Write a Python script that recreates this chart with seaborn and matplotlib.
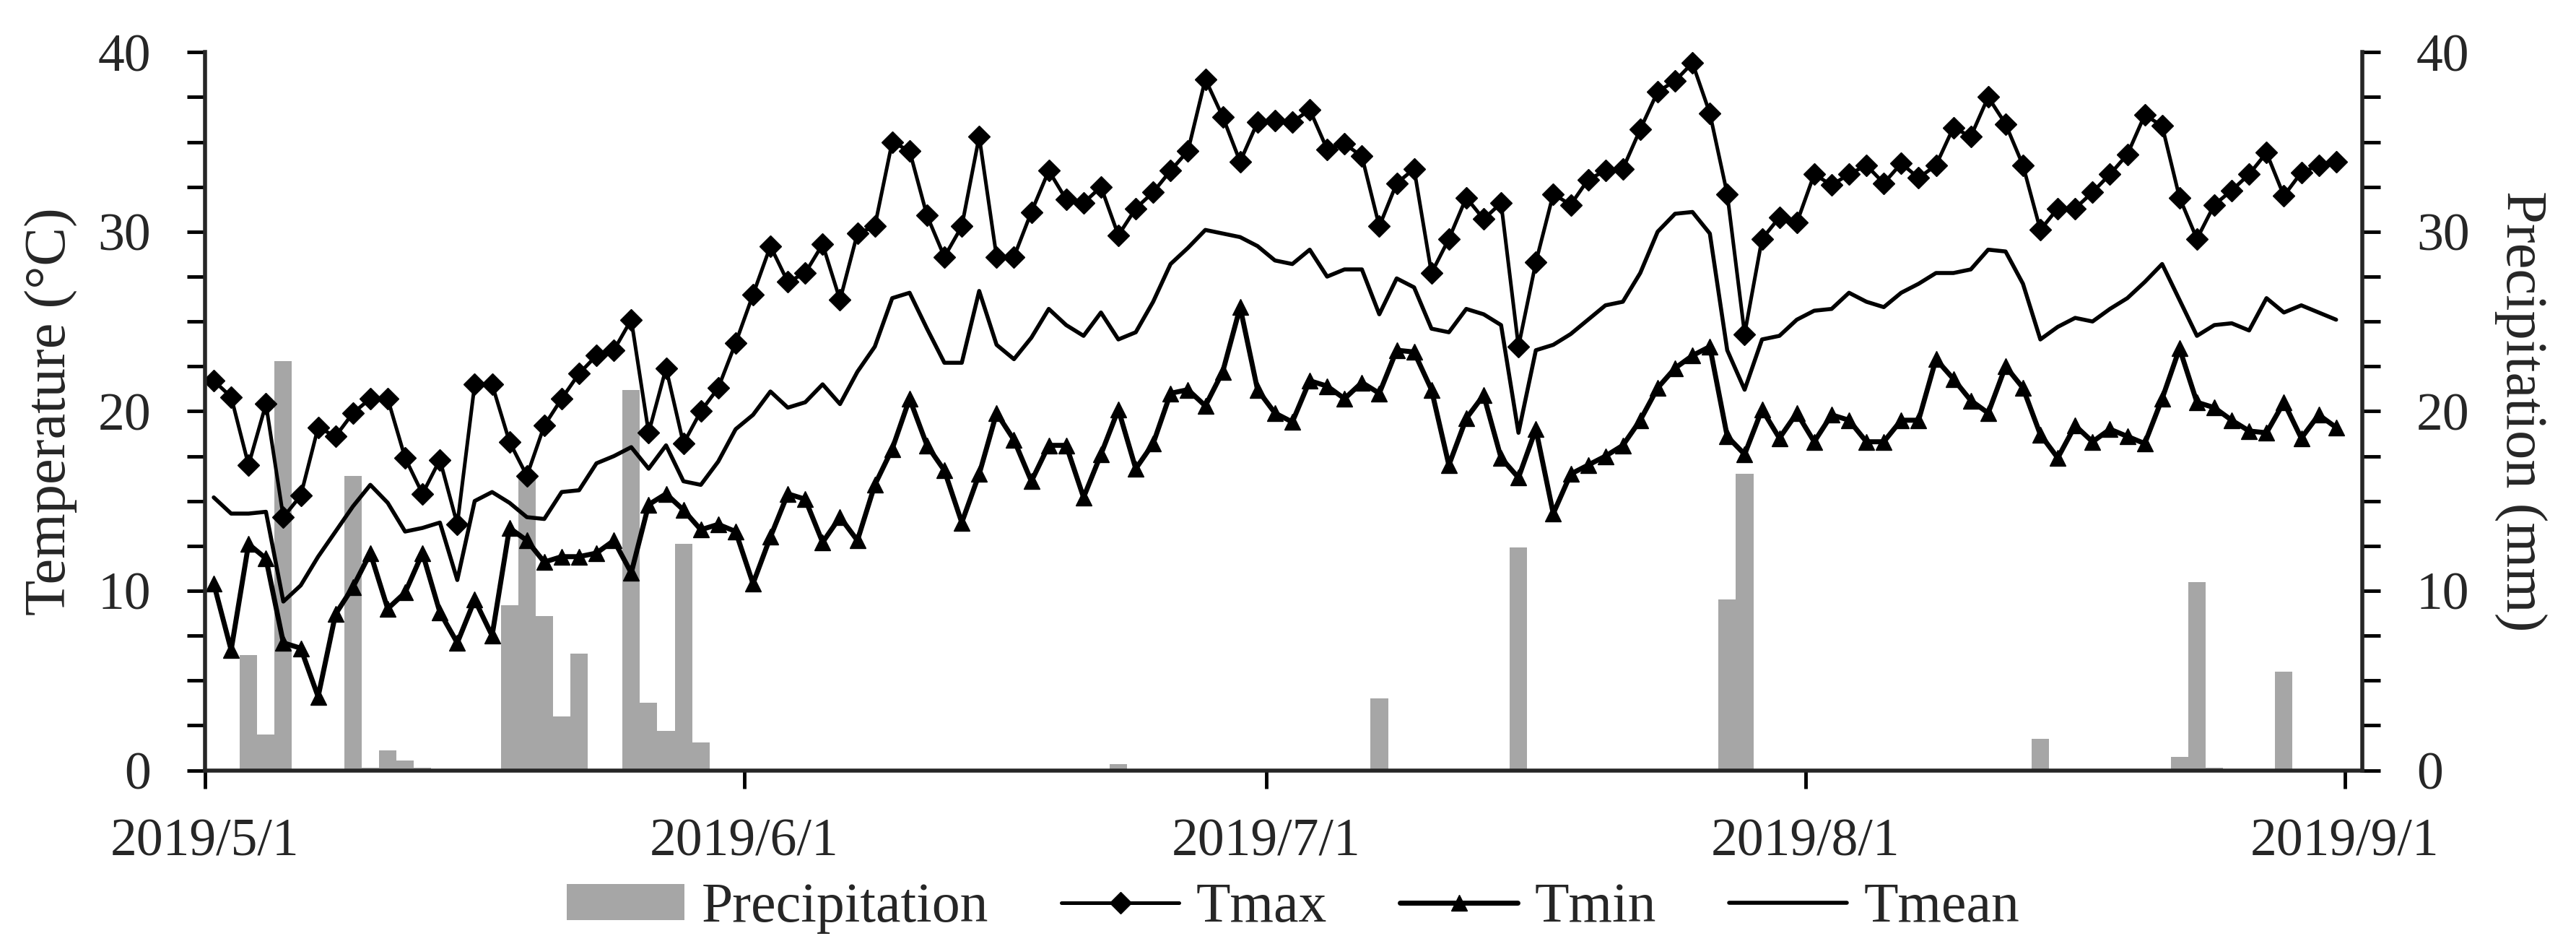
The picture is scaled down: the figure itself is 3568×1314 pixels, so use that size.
import matplotlib
matplotlib.use("Agg")
import matplotlib.pyplot as plt
from matplotlib.ticker import MultipleLocator
import numpy as np
import pandas as pd
import seaborn as sns

# daily series, 2019/5/1 .. 2019/8/31
dates = pd.date_range("2019-05-01", "2019-08-31", freq="D")

tmax = [21.7, 20.8, 17.0, 20.4, 14.1, 15.3, 19.1, 18.6, 19.9, 20.7,
        20.7, 17.4, 15.4, 17.3, 13.7, 21.5, 21.5, 18.3, 16.4, 19.2,
        20.7, 22.1, 23.1, 23.4, 25.1, 18.8, 22.4, 18.2, 20.0, 21.3,
        23.8, 26.5, 29.2, 27.2, 27.7, 29.3, 26.2, 29.9, 30.3, 35.0,
        34.5, 30.9, 28.6, 30.3, 35.3, 28.6, 28.6, 31.1, 33.4, 31.8,
        31.6, 32.5, 29.8, 31.3, 32.2, 33.4, 34.5, 38.5, 36.4, 33.9,
        36.1, 36.2, 36.1, 36.8, 34.6, 34.9, 34.2, 30.3, 32.7, 33.5,
        27.7, 29.6, 31.9, 30.7, 31.6, 23.6, 28.3, 32.1, 31.5, 32.9,
        33.4, 33.5, 35.7, 37.8, 38.4, 39.4, 36.6, 32.1, 24.3, 29.6,
        30.8, 30.5, 33.2, 32.6, 33.2, 33.7, 32.7, 33.8, 33.0, 33.7,
        35.8, 35.3, 37.5, 36.0, 33.7, 30.1, 31.3, 31.3, 32.2, 33.2,
        34.3, 36.5, 35.9, 31.9, 29.6, 31.5, 32.3, 33.2, 34.4, 32.0,
        33.3, 33.7, 33.9]

tmin = [10.4, 6.7, 12.6, 11.8, 7.1, 6.8, 4.1, 8.7, 10.2, 12.1,
        9.0, 9.9, 12.1, 8.8, 7.1, 9.5, 7.5, 13.5, 12.8, 11.6,
        11.9, 11.9, 12.1, 12.8, 11.0, 14.8, 15.4, 14.5, 13.4, 13.7,
        13.3, 10.4, 13.0, 15.4, 15.1, 12.7, 14.1, 12.8, 15.9, 17.9,
        20.7, 18.1, 16.7, 13.8, 16.5, 19.9, 18.4, 16.1, 18.1, 18.1,
        15.2, 17.6, 20.1, 16.8, 18.2, 21.0, 21.2, 20.3, 22.2, 25.8,
        21.2, 19.9, 19.4, 21.7, 21.4, 20.7, 21.6, 21.0, 23.4, 23.3,
        21.2, 17.0, 19.6, 20.9, 17.4, 16.3, 19.0, 14.3, 16.5, 17.0,
        17.5, 18.1, 19.5, 21.3, 22.4, 23.1, 23.6, 18.6, 17.6, 20.1,
        18.5, 19.9, 18.3, 19.8, 19.5, 18.3, 18.3, 19.5, 19.5, 22.9,
        21.8, 20.6, 19.9, 22.5, 21.3, 18.7, 17.4, 19.2, 18.3, 19.0,
        18.6, 18.2, 20.7, 23.5, 20.5, 20.2, 19.5, 18.9, 18.8, 20.5,
        18.5, 19.8, 19.1]

tmean = [15.2, 14.3, 14.3, 14.4, 9.4, 10.3, 11.9, 13.3, 14.7, 15.9,
         14.9, 13.3, 13.5, 13.8, 10.6, 15.0, 15.5, 14.9, 14.1, 14.0,
         15.5, 15.6, 17.1, 17.5, 18.0, 16.8, 18.1, 16.1, 15.9, 17.2,
         19.0, 19.8, 21.1, 20.2, 20.5, 21.5, 20.4, 22.2, 23.6, 26.3,
         26.6, 24.6, 22.7, 22.7, 26.7, 23.7, 22.9, 24.1, 25.7, 24.8,
         24.2, 25.5, 24.0, 24.4, 26.1, 28.2, 29.1, 30.1, 29.9, 29.7,
         29.2, 28.4, 28.2, 29.0, 27.5, 27.9, 27.9, 25.4, 27.4, 26.9,
         24.6, 24.4, 25.7, 25.4, 24.8, 18.8, 23.4, 23.7, 24.3, 25.1,
         25.9, 26.1, 27.7, 30.0, 31.0, 31.1, 29.9, 23.4, 21.2, 24.0,
         24.2, 25.1, 25.6, 25.7, 26.6, 26.1, 25.8, 26.6, 27.1, 27.7,
         27.7, 27.9, 29.0, 28.9, 27.1, 24.0, 24.7, 25.2, 25.0, 25.7,
         26.3, 27.2, 28.2, 26.2, 24.2, 24.8, 24.9, 24.5, 26.3, 25.5,
         25.9, 25.5, 25.1]

precip = [0, 0, 6.4, 2.0, 22.8, 0, 0, 0, 16.4, 0.15,
          1.1, 0.55, 0.15, 0, 0, 0, 0, 9.2, 16.4, 8.6,
          3.0, 6.5, 0, 0, 21.2, 3.75, 2.2, 12.6, 1.55, 0,
          0, 0, 0, 0, 0, 0, 0, 0, 0, 0,
          0, 0, 0, 0, 0, 0, 0, 0, 0, 0,
          0, 0, 0.35, 0, 0, 0, 0, 0, 0, 0,
          0, 0, 0, 0, 0, 0, 0, 4.0, 0, 0,
          0, 0, 0, 0, 0, 12.4, 0, 0, 0, 0,
          0, 0, 0, 0, 0, 0, 0, 9.5, 16.5, 0,
          0, 0, 0, 0, 0, 0, 0, 0, 0, 0,
          0, 0, 0, 0, 0, 1.75, 0, 0, 0, 0,
          0, 0, 0, 0.76, 10.5, 0.14, 0, 0, 0, 5.5,
          0, 0, 0]

tick_dates = pd.to_datetime(["2019-05-01", "2019-06-01", "2019-07-01",
                             "2019-08-01", "2019-09-01"])
tick_labels = ["2019/5/1", "2019/6/1", "2019/7/1", "2019/8/1", "2019/9/1"]

sns.set_style("ticks")
plt.rcParams["font.family"] = ["Liberation Serif", "DejaVu Serif"]

start = dates[0]
df = pd.DataFrame({
    "day": (dates - start).days.values + 0.5,
    "Tmax": tmax, "Tmin": tmin, "Tmean": tmean, "Precipitation": precip,
})

FS = 53
fig = plt.figure(figsize=(35.68, 13.14), dpi=100)
ax = fig.add_axes([0.0796, 0.1883, 0.917 - 0.0796, 0.945 - 0.1883])
ax2 = ax.twinx()
ax.set_zorder(ax2.get_zorder() + 1)
ax.patch.set_visible(False)

bars = ax2.bar(df["day"], df["Precipitation"], width=1.0, color="#a6a6a6",
               linewidth=0, label="Precipitation")

sns.lineplot(data=df, x="day", y="Tmax", ax=ax, color="black", linewidth=3.6,
             marker="D", markersize=15, markeredgecolor="black",
             markeredgewidth=1, legend=False)
sns.lineplot(data=df, x="day", y="Tmin", ax=ax, color="black", linewidth=5,
             marker="^", markersize=16, markeredgecolor="black",
             markeredgewidth=1, legend=False)
sns.lineplot(data=df, x="day", y="Tmean", ax=ax, color="black", linewidth=4,
             legend=False)

ax.set_xlim(0, 124)
ax.set_xticks((tick_dates - start).days)
ax.set_xticklabels(tick_labels)
for a in (ax, ax2):
    a.set_ylim(0, 40)
    a.yaxis.set_major_locator(MultipleLocator(10))
    a.yaxis.set_minor_locator(MultipleLocator(2.5))

ax.tick_params(axis="both", which="both", direction="out", length=18,
               width=3.5, labelsize=FS, color="black")
ax.tick_params(axis="x", pad=30)
ax.tick_params(axis="y", which="both", pad=36)
ax2.tick_params(axis="y", which="both", direction="out", length=18,
                width=3.5, labelsize=FS, pad=36, color="black")

ax.spines["top"].set_visible(False)
ax.spines["right"].set_visible(False)
for s in ("left", "bottom"):
    ax.spines[s].set_linewidth(4)
for s in ("left", "top", "bottom"):
    ax2.spines[s].set_visible(False)
ax2.spines["right"].set_linewidth(4)

ax.set_xlabel("")
ax.set_ylabel("Temperature (°C)", fontsize=58, labelpad=20)
ax2.set_ylabel("Precipitation (mm)", fontsize=58, rotation=270,
               va="bottom", labelpad=24)

handles = [bars, ax.lines[0], ax.lines[1], ax.lines[2]]
labels = ["Precipitation", "Tmax", "Tmin", "Tmean"]
fig.legend(handles, labels, loc="center", bbox_to_anchor=(0.502, 0.043),
           ncol=4, frameon=False, fontsize=56, handlelength=2.1,
           handleheight=0.6, handletextpad=0.3, columnspacing=1.3)

fig.savefig("out.png", dpi=100)
